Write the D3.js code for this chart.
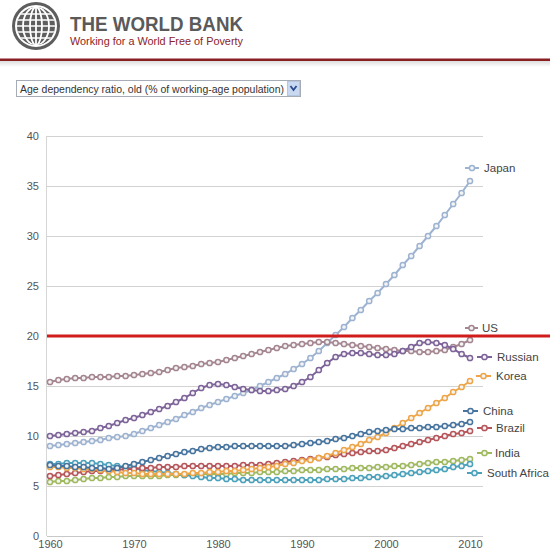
<!DOCTYPE html>
<html>
<head>
<meta charset="utf-8">
<script src="https://cdn.jsdelivr.net/npm/d3@7"></script>
<style>
  html, body { margin: 0; padding: 0; background: #fff; }
  svg { display: block; font-family: "Liberation Sans", Arial, sans-serif; }
</style>
</head>
<body>
<svg id="chart" width="550" height="556"></svg>
<script>
const years = d3.range(1960, 2011);
const yTicks = [0, 5, 10, 15, 20, 25, 30, 35, 40];
const xTicks = [1960, 1970, 1980, 1990, 2000, 2010];
const threshold = 20;
const indicator = "Age dependency ratio, old (% of working-age population)";

const japan = [9.0,9.1,9.2,9.3,9.4,9.5,9.6,9.8,9.9,10.0,10.2,10.5,10.8,11.1,11.4,11.7,12.1,12.4,12.8,13.1,13.4,13.7,14.0,14.3,14.6,15.0,15.4,15.8,16.2,16.7,17.2,17.8,18.5,19.3,20.1,20.9,21.8,22.6,23.5,24.3,25.2,26.1,27.1,28.0,29.0,30.0,31.0,32.1,33.2,34.3,35.5];
const us = [15.4,15.6,15.7,15.8,15.8,15.9,15.9,15.9,16.0,16.0,16.1,16.2,16.3,16.4,16.6,16.8,16.9,17.0,17.2,17.3,17.4,17.6,17.8,18.0,18.2,18.4,18.6,18.8,19.0,19.1,19.2,19.3,19.4,19.4,19.3,19.2,19.1,19.0,18.9,18.8,18.7,18.6,18.5,18.5,18.4,18.4,18.5,18.6,18.9,19.2,19.6];
const russian = [10.0,10.1,10.2,10.3,10.4,10.5,10.8,11.0,11.3,11.6,11.8,12.1,12.4,12.7,13.0,13.4,13.8,14.3,14.8,15.1,15.2,15.1,14.9,14.7,14.6,14.5,14.5,14.6,14.7,15.0,15.4,15.9,16.6,17.3,17.9,18.2,18.3,18.3,18.2,18.1,18.1,18.2,18.5,18.9,19.3,19.4,19.3,19.1,18.7,18.2,17.8];
const korea = [6.9,6.9,6.8,6.8,6.7,6.7,6.6,6.5,6.4,6.3,6.3,6.2,6.2,6.2,6.2,6.2,6.2,6.3,6.3,6.4,6.4,6.5,6.5,6.6,6.7,6.8,6.9,7.0,7.2,7.3,7.5,7.6,7.8,8.0,8.3,8.6,8.9,9.2,9.6,9.9,10.3,10.8,11.3,11.8,12.3,12.8,13.3,13.8,14.4,14.9,15.5];
const china = [7.1,7.0,7.0,6.9,6.9,6.8,6.8,6.7,6.8,7.0,7.2,7.4,7.6,7.8,8.0,8.2,8.4,8.5,8.7,8.8,8.9,8.9,9.0,9.0,9.0,9.0,9.0,9.0,9.0,9.1,9.2,9.3,9.4,9.5,9.7,9.8,10.0,10.2,10.4,10.5,10.6,10.7,10.7,10.8,10.8,10.9,10.9,11.0,11.1,11.2,11.4];
const brazil = [6.0,6.1,6.2,6.3,6.4,6.5,6.5,6.6,6.6,6.7,6.7,6.8,6.8,6.9,6.9,6.9,7.0,7.0,7.0,7.0,7.0,7.0,7.0,7.1,7.1,7.1,7.2,7.3,7.4,7.5,7.6,7.7,7.8,7.9,8.1,8.2,8.3,8.4,8.5,8.5,8.6,8.8,9.0,9.2,9.4,9.6,9.8,10.0,10.2,10.3,10.5];
const india = [5.4,5.5,5.5,5.6,5.7,5.8,5.8,5.9,5.9,6.0,6.0,6.0,6.0,6.0,6.1,6.1,6.1,6.1,6.2,6.2,6.2,6.2,6.3,6.3,6.3,6.4,6.4,6.4,6.5,6.5,6.6,6.6,6.6,6.7,6.7,6.7,6.8,6.8,6.8,6.9,6.9,7.0,7.0,7.1,7.2,7.3,7.4,7.4,7.5,7.6,7.7];
const southAfrica = [7.2,7.2,7.3,7.3,7.3,7.3,7.2,7.1,7.0,6.9,6.8,6.6,6.5,6.4,6.3,6.2,6.1,6.0,5.9,5.8,5.8,5.7,5.7,5.6,5.6,5.6,5.6,5.6,5.6,5.6,5.6,5.6,5.6,5.7,5.7,5.7,5.8,5.8,5.9,5.9,6.0,6.1,6.2,6.3,6.4,6.5,6.6,6.7,6.9,7.0,7.2];

const seriesNames = ["Japan", "US", "Russian", "Korea", "China", "Brazil", "India", "South Africa"];
const seriesValues = [japan, us, russian, korea, china, brazil, india, southAfrica];
const seriesColors = ["#9db3d1", "#a48590", "#7d6399", "#eea548", "#46749e", "#b6555a", "#9fb95e", "#4aa1bb"];
// legend label placement (pixel layout, not data)
const legendLayout = [
  {y: 168, x0: 465, x1: 479, tx: 484},
  {y: 328, x0: 465, x1: 478, tx: 482},
  {y: 357, x0: 477, x1: 492, tx: 497},
  {y: 376, x0: 476, x1: 491, tx: 496},
  {y: 411, x0: 463, x1: 478, tx: 483},
  {y: 428, x0: 477, x1: 492, tx: 496},
  {y: 453, x0: 477, x1: 492, tx: 495},
  {y: 473, x0: 467, x1: 482, tx: 487}
];

const svg = d3.select("#chart");

// ---------- Header ----------
const hdr = svg.append("g");
const gx = 36, gy = 26, gr = 24;
hdr.append("circle").attr("cx", gx).attr("cy", gy).attr("r", gr).attr("fill", "#5e5e5e");
hdr.append("circle").attr("cx", gx).attr("cy", gy).attr("r", gr - 4).attr("fill", "none").attr("stroke", "#fff").attr("stroke-width", 2);
const clip = hdr.append("clipPath").attr("id", "gclip");
clip.append("circle").attr("cx", gx).attr("cy", gy).attr("r", gr - 5);
const globe = hdr.append("g").attr("clip-path", "url(#gclip)");
[6, 13].forEach(rx => globe.append("ellipse").attr("cx", gx).attr("cy", gy).attr("rx", rx).attr("ry", gr - 5)
  .attr("fill", "none").attr("stroke", "#fff").attr("stroke-width", 1.8));
globe.append("line").attr("x1", gx).attr("x2", gx).attr("y1", gy - gr).attr("y2", gy + gr).attr("stroke", "#fff").attr("stroke-width", 1.8);
[-12, -6, 0, 6, 12].forEach(dy => globe.append("line").attr("x1", gx - gr).attr("x2", gx + gr)
  .attr("y1", gy + dy).attr("y2", gy + dy).attr("stroke", "#fff").attr("stroke-width", 1.6));

hdr.append("text").attr("x", 70).attr("y", 31).attr("font-size", 20).attr("font-weight", "bold")
  .attr("fill", "#5a5a5a").attr("textLength", 173).attr("lengthAdjust", "spacingAndGlyphs").text("THE WORLD BANK");
hdr.append("text").attr("x", 70).attr("y", 45).attr("font-size", 10.5).attr("fill", "#8c2327")
  .attr("textLength", 173).attr("lengthAdjust", "spacingAndGlyphs").text("Working for a World Free of Poverty");

const defs = svg.append("defs");
const grad = defs.append("linearGradient").attr("id", "shadow").attr("x1", 0).attr("x2", 0).attr("y1", 0).attr("y2", 1);
grad.append("stop").attr("offset", 0).attr("stop-color", "#ddd");
grad.append("stop").attr("offset", 1).attr("stop-color", "#fff");
svg.append("rect").attr("x", 0).attr("y", 61).attr("width", 550).attr("height", 6).attr("fill", "url(#shadow)");
svg.append("rect").attr("x", 0).attr("y", 58.5).attr("width", 550).attr("height", 2.5).attr("fill", "#8a1f22");

// ---------- Dropdown ----------
const dd = svg.append("g");
dd.append("rect").attr("x", 16.5).attr("y", 80.5).attr("width", 284).attr("height", 16)
  .attr("fill", "#fff").attr("stroke", "#a5acb5");
dd.append("text").attr("x", 20).attr("y", 92.5).attr("font-size", 10.5).attr("fill", "#333")
  .attr("textLength", 264).attr("lengthAdjust", "spacingAndGlyphs").text(indicator);
dd.append("rect").attr("x", 287.5).attr("y", 81.5).attr("width", 12).attr("height", 14)
  .attr("fill", "#c9d9f1").attr("stroke", "#b5c6e0");
dd.append("path").attr("d", "M290.5,86 L293.5,90 L296.5,86").attr("fill", "none")
  .attr("stroke", "#2a4b8d").attr("stroke-width", 1.8);

// ---------- Chart ----------
const x = d3.scaleLinear().domain([1960, 2010]).range([50, 470]);
const y = d3.scaleLinear().domain([0, 40]).range([536, 136]);
const plotLeft = 47, plotRight = 483;

const grid = svg.append("g");
grid.selectAll("line.g").data(yTicks.filter(t => t > 0)).join("line")
  .attr("x1", plotLeft).attr("x2", plotRight)
  .attr("y1", d => Math.round(y(d)) + 0.5).attr("y2", d => Math.round(y(d)) + 0.5)
  .attr("stroke", "#d2d2d2").attr("stroke-width", 1);
grid.append("line").attr("x1", plotLeft - 0.5).attr("x2", plotLeft - 0.5).attr("y1", y(40)).attr("y2", y(0))
  .attr("stroke", "#d6d6d6");
grid.append("line").attr("x1", plotLeft).attr("x2", plotRight).attr("y1", y(0) + 0.5).attr("y2", y(0) + 0.5)
  .attr("stroke", "#c8c8c8");

const yAxis = d3.axisLeft(y).tickValues(yTicks).tickSize(0).tickPadding(0).tickFormat(d3.format("d"));
const ya = svg.append("g").attr("transform", "translate(39,0)").call(yAxis);
ya.select(".domain").remove();
ya.selectAll("text").attr("font-size", 11).attr("fill", "#555").attr("font-family", "Liberation Sans, Arial, sans-serif");

const xAxis = d3.axisBottom(x).tickValues(xTicks).tickSize(0).tickPadding(0).tickFormat(d3.format("d"));
const xa = svg.append("g").attr("transform", "translate(0,540)").call(xAxis);
xa.select(".domain").remove();
xa.selectAll("text").attr("font-size", 11).attr("fill", "#555").attr("font-family", "Liberation Sans, Arial, sans-serif");

const line = d3.line().x((d, i) => x(years[i])).y(d => y(d));

const order = [6, 7, 5, 3, 4, 0, 1, 2];
order.forEach(si => {
  const g = svg.append("g");
  const col = seriesColors[si];
  g.append("path").datum(seriesValues[si]).attr("d", line).attr("fill", "none")
    .attr("stroke", col).attr("stroke-width", 2);
  g.selectAll("circle").data(seriesValues[si]).join("circle")
    .attr("cx", (d, i) => x(years[i])).attr("cy", d => y(d)).attr("r", 2.6)
    .attr("fill", "#f4f4f4").attr("stroke", col).attr("stroke-width", 1.5);
});

// threshold line
svg.append("line").attr("x1", plotLeft).attr("x2", 550).attr("y1", y(threshold)).attr("y2", y(threshold))
  .attr("stroke", "#d11c1c").attr("stroke-width", 3);

// legend labels
seriesNames.forEach((name, i) => {
  const L = legendLayout[i], col = seriesColors[i];
  const g = svg.append("g");
  g.append("line").attr("x1", L.x0).attr("x2", L.x1).attr("y1", L.y).attr("y2", L.y)
    .attr("stroke", col).attr("stroke-width", 2);
  g.append("circle").attr("cx", (L.x0 + L.x1) / 2).attr("cy", L.y).attr("r", 2.6)
    .attr("fill", "#f4f4f4").attr("stroke", col).attr("stroke-width", 1.5);
  g.append("text").attr("x", L.tx).attr("y", L.y + 4).attr("font-size", 11.5).attr("fill", "#444").text(name);
});
</script>
</body>
</html>
